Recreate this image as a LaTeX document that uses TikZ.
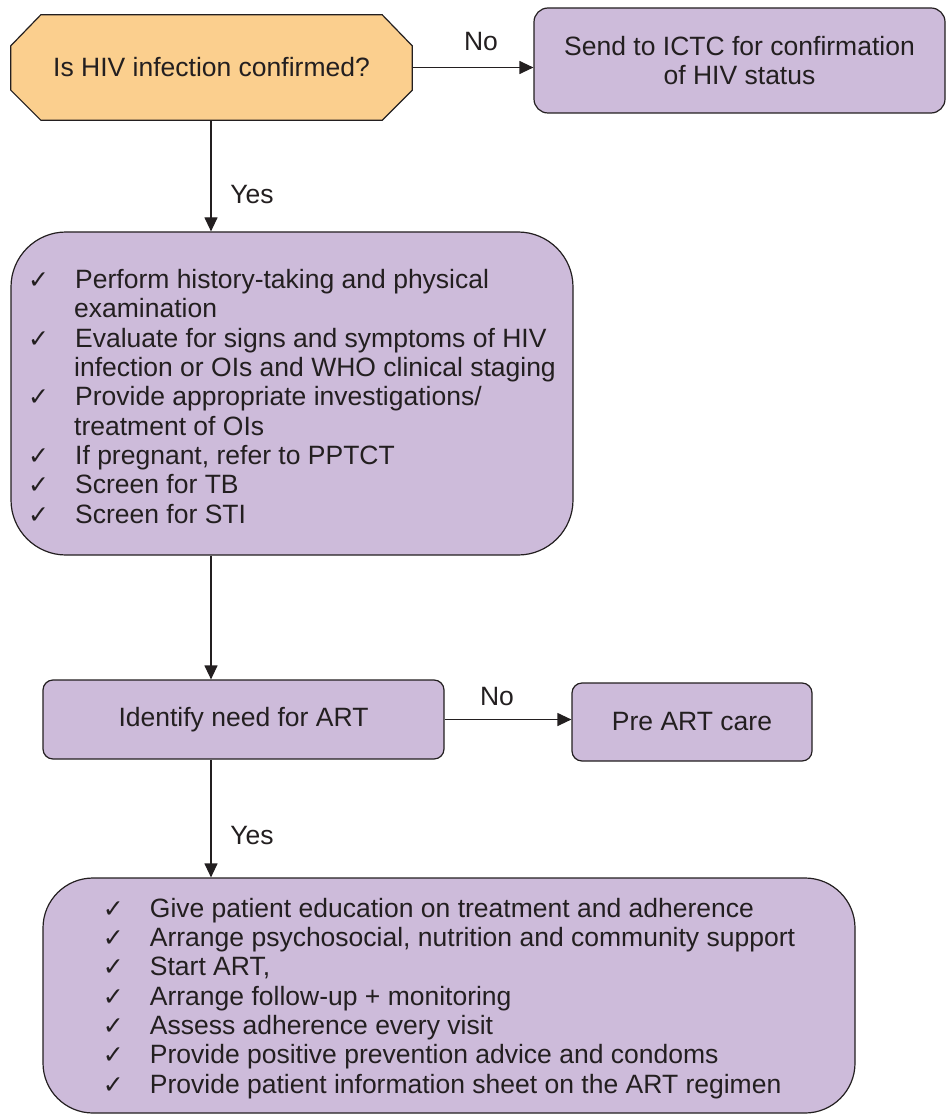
\documentclass[tikz,border=0pt]{standalone}
\usepackage{fontspec}
\setmainfont{Liberation Sans}
\newfontfamily\symfont{DejaVu Sans}
\usetikzlibrary{arrows.meta,backgrounds}
\definecolor{lilac}{RGB}{205,187,218}
\definecolor{apricot}{RGB}{251,207,142}
\definecolor{ink}{RGB}{35,31,32}
\newcommand{\ck}{\makebox[47pt][l]{\symfont\fontsize{25}{25}\selectfont ✓}}
\newcommand{\ind}{\hspace*{46pt}}
\newcommand{\topstrut}{\rule{0pt}{25pt}}
\begin{document}
\begin{tikzpicture}[x=1pt,y=-1pt,
  txt/.style={font=\fontsize{26.5}{29.3}\selectfont, text=ink},
  box/.style={txt, draw=ink, fill=lilac, line width=1.2pt, inner sep=0pt},
  lbl/.style={txt, inner sep=0pt},
  arr/.style={draw=ink, line width=1.2pt, -{Triangle[length=14pt,width=13pt]}}
]
\useasboundingbox (0,0) rectangle (946,1115);

% decision octagon
\node[txt, minimum width=401pt, minimum height=105pt, inner sep=0pt] (q) at (211.5,67.5) {Is HIV infection confirmed?};
\begin{scope}[on background layer]
\draw[draw=ink, fill=apricot, line width=1.2pt]
  ([xshift=30pt]q.north west) -- ([xshift=-30pt]q.north east)
  -- ([yshift=-31pt]q.north east) -- ([yshift=30pt]q.south east)
  -- ([xshift=-30pt]q.south east) -- ([xshift=30pt]q.south west)
  -- ([yshift=30pt]q.south west) -- ([yshift=-31pt]q.north west) -- cycle;
\end{scope}

\node[box, rounded corners=14pt, minimum width=411pt, minimum height=105pt, align=center] (ictc) at (739.5,60.5)
  {Send to ICTC for confirmation\\of HIV status};

\node[box, rounded corners=55pt, minimum width=562pt, minimum height=323pt, align=left] (eval) at (292,393.5)
  {\topstrut\ck Perform history-taking and physical\\
   \ind examination\\
   \ck Evaluate for signs and symptoms of HIV\\
   \ind infection or OIs and WHO clinical staging\\
   \ck Provide appropriate investigations/\\
   \ind treatment of OIs\\
   \ck If pregnant, refer to PPTCT\\
   \ck Screen for TB\\
   \ck Screen for STI};

\node[box, rounded corners=10pt, minimum width=401pt, minimum height=79pt] (need) at (243.5,719.5) {Identify need for ART};
\node[box, rounded corners=10pt, minimum width=240pt, minimum height=78pt] (pre) at (692,722) {Pre ART care};

\node[box, rounded corners=50pt, minimum width=812pt, minimum height=235pt, align=left] (art) at (449,995.5)
  {\topstrut\ck Give patient education on treatment and adherence\\
   \ck Arrange psychosocial, nutrition and community support\\
   \ck Start ART,\\
   \ck Arrange follow-up + monitoring\\
   \ck Assess adherence every visit\\
   \ck Provide positive prevention advice and condoms\\
   \ck Provide patient information sheet on the ART regimen};

% connectors
\coordinate (a1) at (211,120);
\draw[arr] (q.east) -- (q.east -| ictc.west);
\draw[arr] (q.south -| a1) -- (eval.north -| a1);
\draw[arr] (eval.south -| a1) -- (need.north -| a1);
\draw[arr] (need.east) -- (need.east -| pre.west);
\draw[arr] (need.south -| a1) -- (art.north -| a1);

% labels
\node[lbl] (no1) at (481,42) {No};
\node[lbl] (yes1) at (252,195) {Yes};
\node[lbl] (no2) at (497,697) {No};
\node[lbl] (yes2) at (252,836) {Yes};
\end{tikzpicture}
\end{document}
